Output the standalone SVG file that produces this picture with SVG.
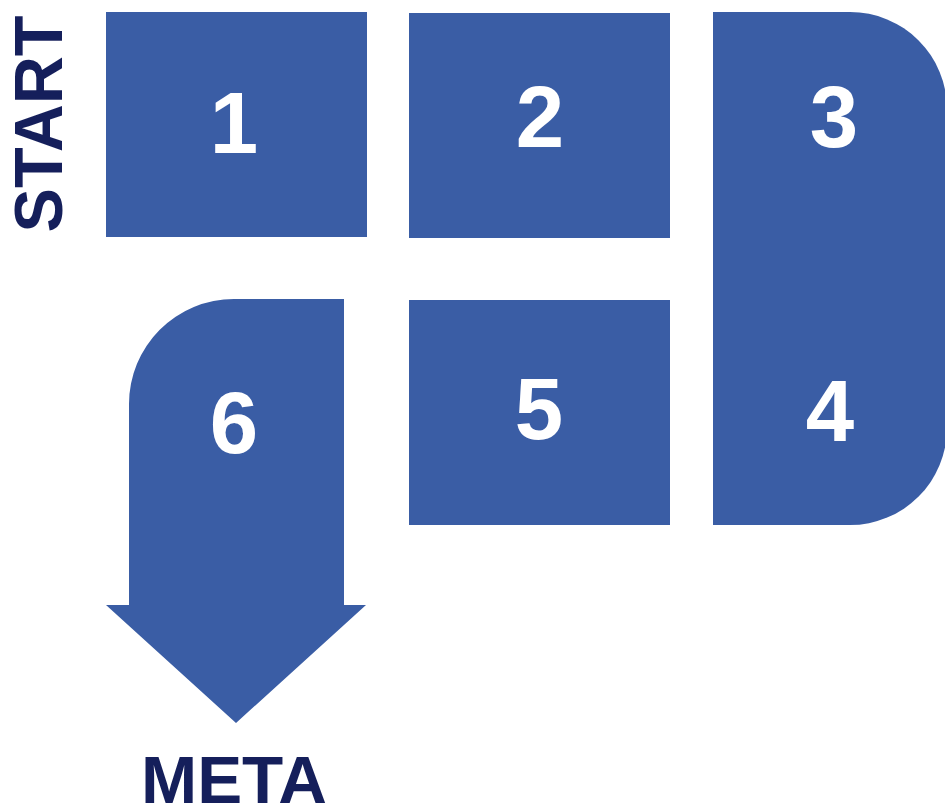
<svg xmlns="http://www.w3.org/2000/svg" width="945" height="807" viewBox="0 0 945 807">
<style>
.box{fill:#3A5DA5}
.num{fill:#ffffff;font-family:"Liberation Sans",Arial,sans-serif;font-weight:bold;font-size:87px;text-anchor:middle}
.lbl{fill:#151F5B;font-family:"Liberation Sans",Arial,sans-serif;font-weight:bold;text-anchor:middle}
</style>
<rect width="945" height="807" fill="#ffffff"/>
<g id="start-label">
<text class="lbl" font-size="68" transform="translate(62,124) rotate(-90)" x="0" y="0" textLength="217" lengthAdjust="spacingAndGlyphs">START</text>
</g>
<g id="node-1">
<rect class="box" x="106" y="12" width="261" height="225"/>
<text class="num" x="234" y="153">1</text>
</g>
<g id="node-2">
<rect class="box" x="409" y="13" width="261" height="225"/>
<text class="num" x="540" y="147">2</text>
</g>
<g id="node-3-4">
<path class="box" d="M713,12 H850 A97,97 0 0 1 947,109 V428 A97,97 0 0 1 850,525 H713 Z"/>
<text class="num" x="834" y="147">3</text>
<text class="num" x="830" y="441">4</text>
</g>
<g id="node-5">
<rect class="box" x="409" y="300" width="261" height="225"/>
<text class="num" x="539" y="439">5</text>
</g>
<g id="node-6">
<path class="box" d="M344,299 V605 H366 L236,723 L106,605 H129 V404 A105,105 0 0 1 234,299 Z"/>
<text class="num" x="234" y="453">6</text>
</g>
<g id="meta-label">
<text class="lbl" font-size="66" x="234" y="803" textLength="186" lengthAdjust="spacingAndGlyphs">META</text>
</g>
<g id="connectors"></g>
</svg>
